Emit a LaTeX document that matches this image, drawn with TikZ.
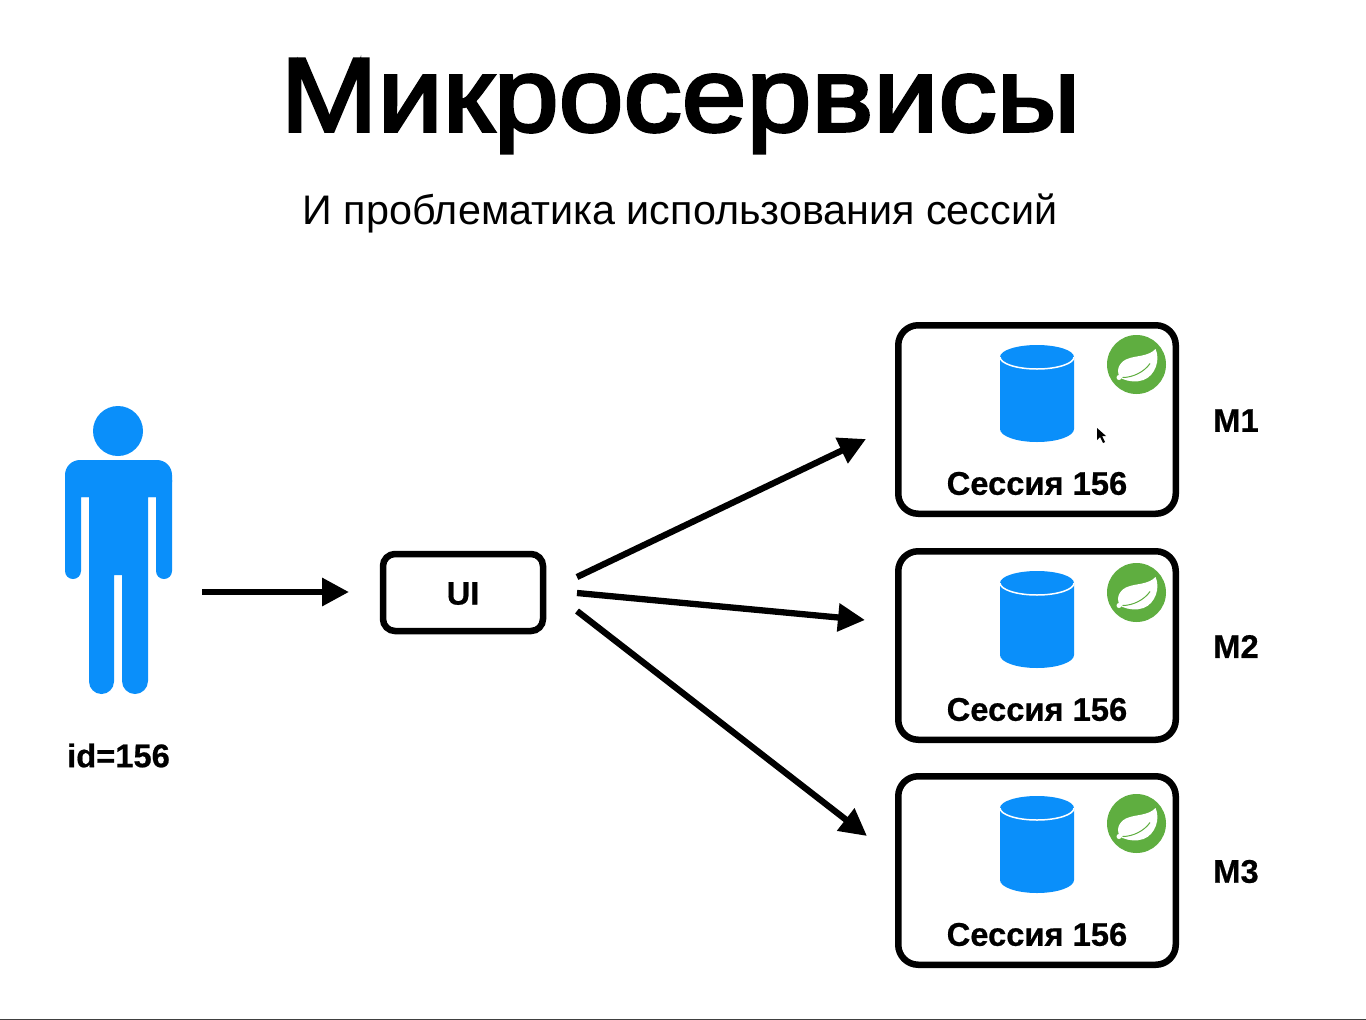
\documentclass[tikz,border=0pt]{standalone}
\usepackage{fontspec}
\setmainfont{Liberation Sans}
\newfontfamily\titlefont[FakeStretch=1.11,FakeBold=3]{Liberation Sans}
\newfontfamily\labelfont[FakeBold=0.6]{Liberation Sans Bold}
\usetikzlibrary{arrows.meta}
\definecolor{skyblue}{HTML}{0A8FFA}
\definecolor{springgreen}{HTML}{5FAE40}

\begin{document}
\begin{tikzpicture}[x=1pt,y=-1pt,
    every node/.style = {align=center, inner sep=0pt, outer sep=0pt},
    box/.style = {draw, line width=6.5pt, rounded corners=20pt, anchor=center},
    label/.style = {font=\labelfont\fontsize{32.7}{36}\selectfont},
    link/.style = {line width=6.3pt, -{Triangle[length=27pt,width=27pt]}}]
    \tikzset{
      base/.pic = {
        \fill[skyblue] (-37,-36) arc[start angle=180, end angle=360, x radius=37, y radius=12]
          -- (37,36) arc[start angle=0, end angle=180, x radius=37, y radius=13] -- cycle;
        \draw[white, line width=1.5pt] (-37,-36) arc[start angle=180, end angle=0, x radius=37, y radius=12];
      },
      spring/.pic = {
        \fill[springgreen] (0,0) circle[radius=29.5];
        \fill[white] (-16.5,13) .. controls (-22,4) and (-15,-4) .. (-8,-6)
          .. controls (0,-9) and (12,-8) .. (19,-15.5)
          .. controls (24,-5) and (19,11) .. (7,15.5)
          .. controls (0,18) and (-8,17) .. (-14,14.5) -- cycle;
        \draw[springgreen, line width=1pt] (-14,13) .. controls (-3,13) and (8,7) .. (13.5,-1);
        \fill[white] (-17.5,13) circle[radius=2.5];
      }
    }
    \path[use as bounding box, fill=white] (0,0) rectangle (1366,1020);
    \draw[black!75, line width=1.5pt] (0,1019.5) -- (1366,1019.5);

    \node (title) at (680.5,106) {\titlefont\fontsize{105}{120}\selectfont Микросервисы};
    \node (subtitle) at (680,213) {\fontsize{41.3}{46}\selectfont И проблематика использования сессий};

    % user
    \fill[skyblue] (118,431) circle[radius=25];
    \fill[skyblue, rounded corners=15pt] (65,497) -- (65,460) -- (172,460) -- (172,497) -- cycle;
    \fill[skyblue] (65,480) -- (65,571) arc[start angle=180, end angle=0, radius=8] -- (81,497)
      -- (89,497) -- (89,681.5) arc[start angle=180, end angle=0, radius=12.5] -- (114,575)
      -- (122,575) -- (122,681) arc[start angle=180, end angle=0, radius=13] -- (148,497)
      -- (156,497) -- (156,571) arc[start angle=180, end angle=0, radius=8] -- (172,480) -- cycle;
    \node[label] (id) at (118.5,755.5) {id=156};

    \node[box, minimum width=160pt, minimum height=77pt, rounded corners=12pt] (ui) at (463,592.5) {};
    \node[label] (uitext) at (463,593.5) {UI};

    \foreach \name/\y/\logo in {1/324/364.5, 2/550/592.5, 3/775/823.5} {
      \node[box, minimum width=277.5pt, minimum height=188.5pt] (m\name) at (1037,\y+95.5) {};
      \pic at (1037,\y+69) {base};
      \pic at (1136.5,\logo) {spring};
      \node[label] (s\name) at (1037,\y+159.5) {Сессия 156};
      \node[label] (t\name) at (1236,\y+96.5) {M\name};
    }

    % cursor
    \fill[black] (1097,428) -- (1097,440) -- (1100,437) -- (1103,443) -- (1105,442) -- (1102,436) -- (1106,436) -- cycle;

    \coordinate (user) at (202,592);
    \coordinate (in) at (349,592);
    \coordinate (a1) at (577,577);
    \coordinate (a2) at (577,593);
    \coordinate (a3) at (577,611);
    \coordinate (b1) at (866,439);
    \coordinate (b2) at (865,620);
    \coordinate (b3) at (867,836);
    \draw[link] (user) -- (in);
    \draw[link] (a1) -- (b1);
    \draw[link] (a2) -- (b2);
    \draw[link] (a3) -- (b3);
\end{tikzpicture}
\end{document}
